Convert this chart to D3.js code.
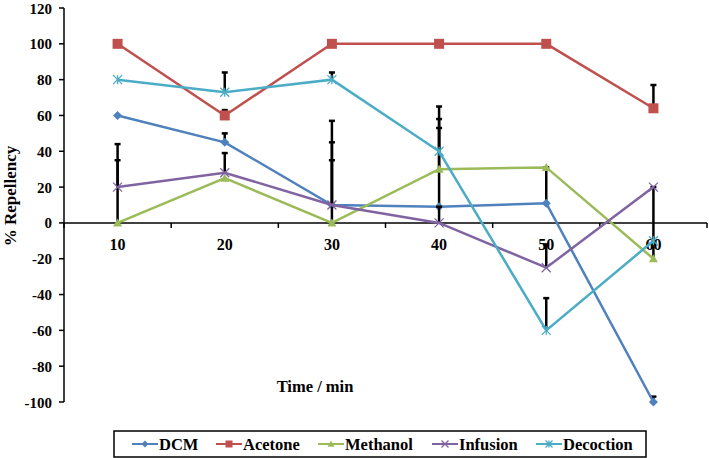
<!DOCTYPE html>
<html>
<head>
<meta charset="utf-8">
<script src="https://cdn.jsdelivr.net/npm/d3@7"></script>
<style>
  body { margin: 0; background: #fff; }
  svg text { font-family: "Liberation Serif", "Tinos", "Times New Roman", "DejaVu Serif", serif; font-weight: bold; fill: #000; }
</style>
</head>
<body>
<div id="chart"></div>
<script>
// Data
var times = [10, 20, 30, 40, 50, 60];
var seriesNames = ["DCM", "Acetone", "Methanol", "Infusion", "Decoction"];
var dcm       = [60, 45, 10, 9, 11, -100];
var acetone   = [100, 60, 100, 100, 100, 64];
var methanol  = [0, 25, 0, 30, 31, -20];
var infusion  = [20, 28, 10, 0, -25, 20];
var decoction = [80, 73, 80, 40, -60, -10];
// plus-only error bars
var dcmErr       = [0, 5, 47, 44, 20, 3];
var acetoneErr   = [0, 3, 0, 0, 0, 13];
var methanolErr  = [35, 0, 35, 28, 0, 40];
var infusionErr  = [24, 11, 35, 9, 13, 0];
var decoctionErr = [0, 11, 4, 25, 18, 0];
var yTicks = [120, 100, 80, 60, 40, 20, 0, -20, -40, -60, -80, -100];

var colors = ["#4F81BD", "#C0504D", "#9BBB59", "#8064A2", "#4BACC6"];
var shapes = ["diamond", "square", "triangle", "cross", "star"];
var values = [dcm, acetone, methanol, infusion, decoction];
var errors = [dcmErr, acetoneErr, methanolErr, infusionErr, decoctionErr];

var FONT = '"Liberation Serif", "Tinos", "Times New Roman", "DejaVu Serif", serif';

var W = 709, H = 458;
var svg = d3.select("#chart").append("svg")
    .attr("width", W).attr("height", H)
    .attr("font-family", FONT)
    .attr("font-weight", "bold");

var x = d3.scaleBand().domain(times).range([64, 707]).padding(0);
var y = d3.scaleLinear().domain([-100, 120]).range([402, 8]);
function cx(t) { return x(t) + x.bandwidth() / 2; }

// Axes
var axes = svg.append("g");
axes.append("line")
    .attr("x1", 64).attr("x2", 64).attr("y1", y(120)).attr("y2", y(-100))
    .attr("stroke", "#000").attr("stroke-width", 1.5);
axes.append("line")
    .attr("x1", 64).attr("x2", 707).attr("y1", y(0)).attr("y2", y(0))
    .attr("stroke", "#000").attr("stroke-width", 1.5);

yTicks.forEach(function(v) {
    axes.append("line")
        .attr("x1", 59).attr("x2", 64).attr("y1", y(v)).attr("y2", y(v))
        .attr("stroke", "#000").attr("stroke-width", 1.5);
    axes.append("text")
        .attr("x", 52).attr("y", y(v) + 5.5)
        .attr("text-anchor", "end")
        .style("font-size", "15px")
        .text(v);
});

// x ticks at band boundaries
times.concat(["end"]).forEach(function(t, i) {
    var px = i < times.length ? x(t) : 707;
    axes.append("line")
        .attr("x1", px).attr("x2", px).attr("y1", y(0)).attr("y2", y(0) + 5)
        .attr("stroke", "#000").attr("stroke-width", 1.5);
});
times.forEach(function(t) {
    axes.append("text")
        .attr("x", cx(t)).attr("y", y(0) + 27)
        .attr("text-anchor", "middle")
        .style("font-size", "16px")
        .text(t);
});

// Axis titles
svg.append("text")
    .attr("transform", "translate(16,196) rotate(-90)")
    .attr("text-anchor", "middle")
    .style("font-size", "17px")
    .text("% Repellency");
svg.append("text")
    .attr("x", 315).attr("y", 392)
    .attr("text-anchor", "middle")
    .style("font-size", "16.5px")
    .text("Time / min");

// Marker drawing
function drawMarker(g, shape, color, px, py, s) {
    if (shape === "diamond") {
        g.append("path")
            .attr("d", "M" + px + "," + (py - s) + "L" + (px + s) + "," + py +
                       "L" + px + "," + (py + s) + "L" + (px - s) + "," + py + "Z")
            .attr("fill", color);
    } else if (shape === "square") {
        g.append("rect")
            .attr("x", px - s).attr("y", py - s)
            .attr("width", 2 * s).attr("height", 2 * s)
            .attr("fill", color);
    } else if (shape === "triangle") {
        g.append("path")
            .attr("d", "M" + px + "," + (py - s) + "L" + (px + s) + "," + (py + s * 0.8) +
                       "L" + (px - s) + "," + (py + s * 0.8) + "Z")
            .attr("fill", color);
    } else if (shape === "cross") {
        g.append("path")
            .attr("d", "M" + (px - s) + "," + (py - s) + "L" + (px + s) + "," + (py + s) +
                       "M" + (px + s) + "," + (py - s) + "L" + (px - s) + "," + (py + s))
            .attr("stroke", color).attr("stroke-width", 1.3).attr("fill", "none");
    } else {
        g.append("path")
            .attr("d", "M" + (px - s) + "," + (py - s) + "L" + (px + s) + "," + (py + s) +
                       "M" + (px + s) + "," + (py - s) + "L" + (px - s) + "," + (py + s) +
                       "M" + px + "," + (py - s) + "L" + px + "," + (py + s))
            .attr("stroke", color).attr("stroke-width", 1.3).attr("fill", "none");
    }
}

var line = d3.line()
    .x(function(d, i) { return cx(times[i]); })
    .y(function(d) { return y(d); });

// Series with error bars
values.forEach(function(vals, si) {
    var g = svg.append("g");
    // error bars (plus direction)
    vals.forEach(function(v, i) {
        var e = errors[si][i];
        if (!e) return;
        var px = cx(times[i]);
        g.append("line")
            .attr("x1", px).attr("x2", px).attr("y1", y(v)).attr("y2", y(v + e))
            .attr("stroke", "#000").attr("stroke-width", 2.5);
        g.append("line")
            .attr("x1", px - 3).attr("x2", px + 3).attr("y1", y(v + e)).attr("y2", y(v + e))
            .attr("stroke", "#000").attr("stroke-width", 2.5);
    });
    g.append("path")
        .datum(vals)
        .attr("d", line)
        .attr("fill", "none")
        .attr("stroke", colors[si])
        .attr("stroke-width", 2.5);
    vals.forEach(function(v, i) {
        drawMarker(g, shapes[si], colors[si], cx(times[i]), y(v), shapes[si] === "square" ? 5 : 4.5);
    });
});

// Legend
var legend = svg.append("g");
legend.append("rect")
    .attr("x", 114).attr("y", 431).attr("width", 532).attr("height", 26)
    .attr("fill", "#fff").attr("stroke", "#000").attr("stroke-width", 1.5);
var legendX = [132, 216, 318, 432, 536];
seriesNames.forEach(function(name, si) {
    var lx = legendX[si];
    legend.append("line")
        .attr("x1", lx).attr("x2", lx + 26).attr("y1", 444).attr("y2", 444)
        .attr("stroke", colors[si]).attr("stroke-width", 2);
    drawMarker(legend, shapes[si], colors[si], lx + 13, 444, 3.5);
    legend.append("text")
        .attr("x", lx + 27).attr("y", 450)
        .style("font-size", "16.5px")
        .text(name);
});
</script>
</body>
</html>
